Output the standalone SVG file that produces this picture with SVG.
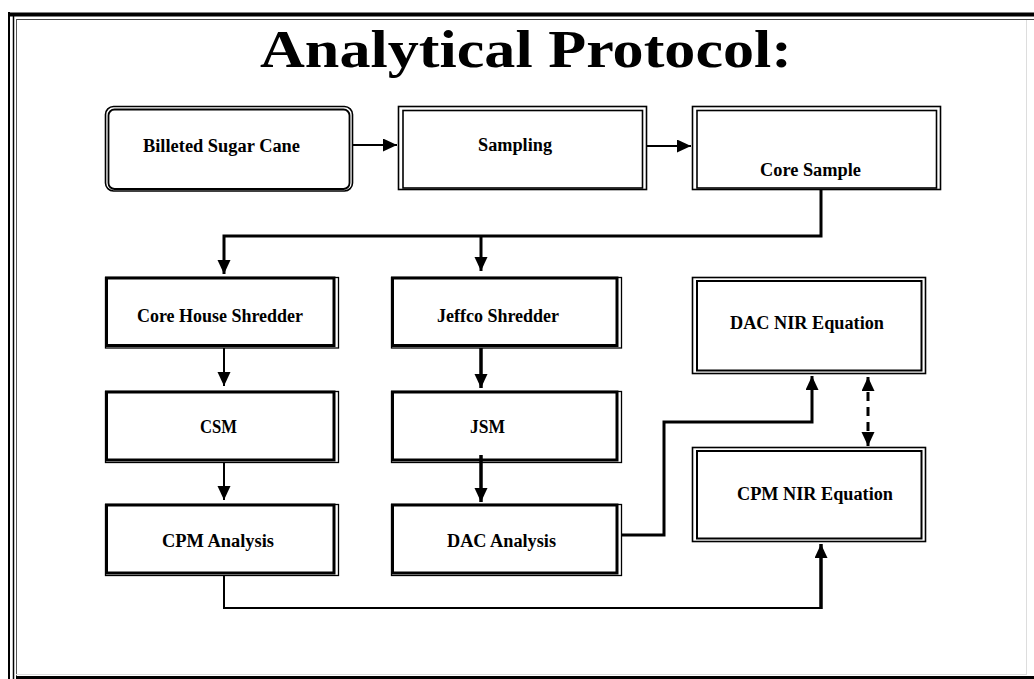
<svg xmlns="http://www.w3.org/2000/svg" width="1034" height="679" viewBox="0 0 1034 679">
<defs>
<style>
.lbl{font-family:"Liberation Serif","Times New Roman",serif;font-weight:bold;font-size:18px;fill:#000}
.title{font-family:"Liberation Serif","Times New Roman",serif;font-weight:bold;font-size:53px;fill:#000}
.thin{fill:none;stroke:#000;stroke-width:1.3}
.thick{fill:#fff;stroke:#000;stroke-width:3}
.dbl{fill:#fff;stroke:#000;stroke-width:1.6}
.conn{fill:none;stroke:#000;stroke-linejoin:miter}
</style>
<marker id="ah" markerUnits="userSpaceOnUse" markerWidth="16" markerHeight="14" refX="14" refY="6.5" orient="auto-start-reverse">
<path d="M0,0 L14,6.5 L0,13 z" fill="#000"/>
</marker>
</defs>
<rect width="1034" height="679" fill="#fff"/>
<g id="frame">
<rect x="8" y="12.5" width="1026" height="4" fill="#000"/>
<line x1="16" y1="19.5" x2="1034" y2="19.5" stroke="#444" stroke-width="1.2"/>
<line x1="9" y1="12" x2="9" y2="679" stroke="#000" stroke-width="2"/>
<line x1="13.5" y1="16" x2="13.5" y2="679" stroke="#000" stroke-width="1.5"/>
<line x1="16.5" y1="19" x2="16.5" y2="679" stroke="#555" stroke-width="1"/>
<line x1="16" y1="677.5" x2="1034" y2="677.5" stroke="#000" stroke-width="3"/>
<line x1="16" y1="674.5" x2="1026" y2="674.5" stroke="#ddd" stroke-width="1"/>
<line x1="1026.5" y1="20" x2="1026.5" y2="675" stroke="#ddd" stroke-width="1"/>
</g>
<text class="title" x="260" y="67" textLength="532" lengthAdjust="spacingAndGlyphs">Analytical  Protocol:</text>
<g id="billeted">
<rect class="dbl" x="105.5" y="106.5" width="247" height="84.5" rx="8"/>
<rect class="dbl" x="108.5" y="109.5" width="241" height="79.5" rx="6" style="stroke-width:1.8"/>
<text class="lbl" x="143" y="152" textLength="157" lengthAdjust="spacingAndGlyphs">Billeted Sugar Cane</text>
</g>
<g id="sampling">
<rect class="dbl" x="398.5" y="106.5" width="248" height="83"/>
<rect class="dbl" x="403" y="110.5" width="239.5" height="77.5"/>
<text class="lbl" x="478" y="151" textLength="74" lengthAdjust="spacingAndGlyphs">Sampling</text>
</g>
<g id="coresample">
<rect class="dbl" x="692.5" y="106.5" width="248" height="83"/>
<rect class="dbl" x="697" y="110.5" width="239.5" height="77.5"/>
<text class="lbl" x="760" y="176" textLength="101" lengthAdjust="spacingAndGlyphs">Core Sample</text>
</g>
<g id="corehouse">
<rect class="thin" x="105.5" y="277.5" width="233" height="70.5"/>
<rect class="thick" x="106.5" y="278" width="227.5" height="67.5"/>
<text class="lbl" x="137" y="322" textLength="166" lengthAdjust="spacingAndGlyphs">Core House Shredder</text>
</g>
<g id="jeffco">
<rect class="thin" x="391.5" y="277.5" width="230" height="70.5"/>
<rect class="thick" x="392.5" y="278" width="224.5" height="67.5"/>
<text class="lbl" x="437" y="322" textLength="122" lengthAdjust="spacingAndGlyphs">Jeffco Shredder</text>
</g>
<g id="dacnir">
<rect class="dbl" x="692.5" y="277.5" width="233" height="96"/>
<rect class="dbl" x="697" y="281" width="224.5" height="89.5" style="stroke-width:2"/>
<text class="lbl" x="730" y="329" textLength="154" lengthAdjust="spacingAndGlyphs">DAC NIR Equation</text>
</g>
<g id="csm">
<rect class="thin" x="105.5" y="391.5" width="233" height="71"/>
<rect class="thick" x="106.5" y="392" width="227.5" height="68"/>
<text class="lbl" x="200" y="433" textLength="37" lengthAdjust="spacingAndGlyphs">CSM</text>
</g>
<g id="jsm">
<rect class="thin" x="391.5" y="391.5" width="230" height="71"/>
<rect class="thick" x="392.5" y="392" width="224.5" height="68"/>
<text class="lbl" x="470" y="433" textLength="35" lengthAdjust="spacingAndGlyphs">JSM</text>
</g>
<g id="cpmnir">
<rect class="dbl" x="692.5" y="447.5" width="233" height="94"/>
<rect class="dbl" x="697" y="451" width="224.5" height="87.5" style="stroke-width:2"/>
<text class="lbl" x="737" y="500" textLength="156" lengthAdjust="spacingAndGlyphs">CPM NIR Equation</text>
</g>
<g id="cpmanalysis">
<rect class="thin" x="105.5" y="504.5" width="233" height="71"/>
<rect class="thick" x="106.5" y="505" width="227.5" height="68"/>
<text class="lbl" x="162" y="547" textLength="112" lengthAdjust="spacingAndGlyphs">CPM Analysis</text>
</g>
<g id="dacanalysis">
<rect class="thin" x="391.5" y="504.5" width="230" height="71"/>
<rect class="thick" x="392.5" y="505" width="224.5" height="68"/>
<text class="lbl" x="447" y="547" textLength="109" lengthAdjust="spacingAndGlyphs">DAC Analysis</text>
</g>
<g id="connectors">
<path class="conn" d="M353,145 H397" stroke-width="2" marker-end="url(#ah)"/>
<path class="conn" d="M647,146 H691" stroke-width="2" marker-end="url(#ah)"/>
<path class="conn" d="M821,190 V236 H224 V274" stroke-width="3" marker-end="url(#ah)"/>
<path class="conn" d="M481,236 V271" stroke-width="3" marker-end="url(#ah)"/>
<path class="conn" d="M224,348 V386" stroke-width="2" marker-end="url(#ah)"/>
<path class="conn" d="M481,348 V388" stroke-width="3.5" marker-end="url(#ah)"/>
<path class="conn" d="M224,463 V500" stroke-width="2" marker-end="url(#ah)"/>
<path class="conn" d="M481,455 V502" stroke-width="3.5" marker-end="url(#ah)"/>
<path class="conn" d="M622,535 H664 V422 H812 V376" stroke-width="3" marker-end="url(#ah)"/>
<path class="conn" d="M868,377 V446" stroke-width="3" stroke-dasharray="9,6" marker-start="url(#ah)" marker-end="url(#ah)"/>
<path class="conn" d="M224,575 V608 H821" stroke-width="2"/>
<path class="conn" d="M821,609 V544" stroke-width="3.5" marker-end="url(#ah)"/>
</g>
</svg>
